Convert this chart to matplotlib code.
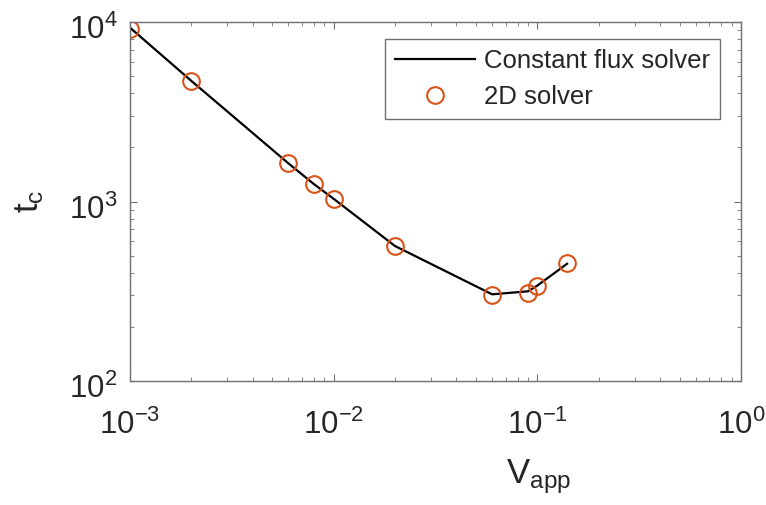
import matplotlib
matplotlib.use("Agg")
import matplotlib.pyplot as plt
from matplotlib.transforms import ScaledTranslation

# data
v_app_2d = [1e-3, 2e-3, 6e-3, 8e-3, 1e-2, 2e-2, 0.06, 0.09, 0.1, 0.14]
t_c_2d = [9200, 4700, 1630, 1250, 1035, 565, 301, 310, 338, 453]

v_app_flux = [1e-3, 2e-3, 6e-3, 8e-3, 1e-2, 2e-2, 0.06, 0.09, 0.1, 0.14]
t_c_flux = [9300, 4700, 1630, 1250, 1035, 565, 304, 316, 340, 450]

plt.rcParams['font.family'] = ['Liberation Sans', 'DejaVu Sans']
plt.rcParams['mathtext.fontset'] = 'custom'
plt.rcParams['mathtext.rm'] = 'Liberation Sans'
plt.rcParams['mathtext.it'] = 'Liberation Sans'

axis_col = '#707070'
text_col = '#262626'

fig = plt.figure(figsize=(7.66, 5.05), dpi=100)
ax = fig.add_axes([130 / 766, 124 / 505, 611 / 766, 359 / 505])

ax.plot(v_app_flux, t_c_flux, color='k', lw=1.6, label='Constant flux solver')
ax.plot(v_app_2d, t_c_2d, ls='none', marker='o', ms=12, mfc='none',
        mec='#D95319', mew=1.5, label='2D solver')

ax.set_xscale('log')
ax.set_yscale('log')
ax.set_xlim(1e-3, 1e0)
ax.set_ylim(1e2, 1e4)

for s in ax.spines.values():
    s.set_color(axis_col)
    s.set_linewidth(1.0)
ax.tick_params(which='both', direction='in', top=True, right=True,
               color=axis_col, labelcolor=text_col, labelsize=22.5)
ax.tick_params(which='major', length=5, width=0.8)
ax.tick_params(which='minor', length=3, width=0.6)
ax.tick_params(axis='x', pad=21)
ax.tick_params(axis='y', pad=9)

# MATLAB puts the y tick labels a little lower than the tick
shift = ScaledTranslation(0, -5 / 100, fig.dpi_scale_trans)
for lab in ax.get_yticklabels():
    lab.set_transform(lab.get_transform() + shift)

ax.set_xlabel('V$_{\\mathregular{app}}$', fontsize=25, color=text_col)
ax.set_ylabel('t$_{\\mathregular{c}}$', fontsize=25, color=text_col)
ax.xaxis.set_label_coords(0.669, -0.213)
ax.yaxis.set_label_coords(-0.137, 0.5)

leg = ax.legend(loc='upper right', bbox_to_anchor=(0.9656, 0.9526),
                borderaxespad=0, fontsize=18.5, fancybox=False, framealpha=1,
                edgecolor=axis_col, handlelength=3.1, handletextpad=0.35,
                labelspacing=0.45, borderpad=0.4)
leg.get_frame().set_linewidth(1.0)
for t in leg.get_texts():
    t.set_color(text_col)

fig.savefig('out.png', dpi=100)
